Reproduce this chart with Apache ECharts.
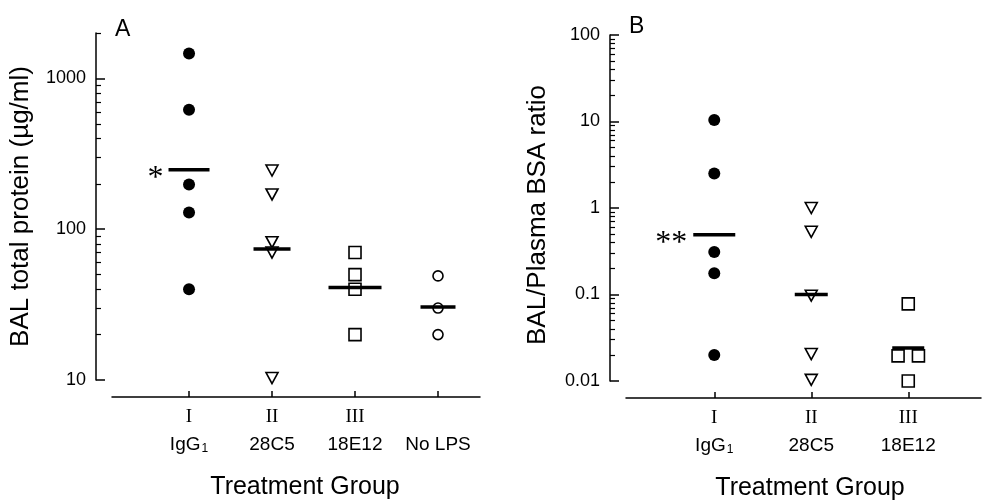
<!DOCTYPE html>
<html>
<head>
<meta charset="utf-8">
<script src="https://cdn.jsdelivr.net/npm/echarts@6/dist/echarts.min.js"></script>
<style>
  html, body { margin: 0; padding: 0; background: #fff; }
  #chart { width: 982px; height: 500px; }
</style>
</head>
<body>
<div id="chart"></div>
<script>
// panel A: BAL total protein (ug/ml)
const romanA = ['I', 'II', 'III', ''];
const groupNamesA = ['IgG1', '28C5', '18E12', 'No LPS'];
const proteinIgG = [1460, 620, 198, 129, 40];
const protein28C5 = [245, 170, 82, 70, 10.3];
const protein18E12 = [70, 50, 40, 20];
const proteinNoLPS = [49, 30, 20];
const proteinMean = [248, 74, 41, 30.5];
const yTicksA = [10, 100, 1000];

// panel B: BAL/plasma BSA ratio
const romanB = ['I', 'II', 'III'];
const groupNamesB = ['IgG1', '28C5', '18E12'];
const ratioIgG = [10.4, 2.5, 0.31, 0.176, 0.02];
const ratio28C5 = [1.0, 0.53, 0.097, 0.0205, 0.0103];
const ratio18E12 = [0.078, 0.0195, 0.0195, 0.01];
const ratio18E12X = [3, 2.895, 3.105, 3];
const ratioMean = [0.49, 0.1, 0.024];
const yTicksB = [0.01, 0.1, 1, 10, 100];

const black = '#000';

// minor ticks at 2..9 of each decade
function minorTicks(lo, hi) {
  const out = [];
  for (let d = lo; d < hi * 10; d *= 10) {
    for (let k = 2; k <= 9; k++) {
      const v = +(d * k).toPrecision(3);
      if (v <= hi) out.push(v);
    }
  }
  return out;
}

function xLabel(roman, name) {
  let s = name === 'IgG1' ? '{s|IgG}{sub|1}' : '{s|' + name + '}';
  return '{r|' + (roman || ' ') + '}\n' + s;
}

const richLabel = {
  r: { fontFamily: 'Liberation Serif', fontSize: 19, lineHeight: 28, color: black },
  s: { fontFamily: 'Liberation Sans', fontSize: 19, lineHeight: 28, color: black },
  sub: { fontFamily: 'Liberation Sans', fontSize: 12, verticalAlign: 'middle', padding: [8, 0, 0, 1], color: black }
};

function xAxisFor(grid, min, max, roman, names, namePad) {
  const vals = roman.map((r, i) => i + 1);
  return {
    gridIndex: grid, type: 'value', min: min, max: max, offset: 17,
    name: 'Treatment Group', nameLocation: 'middle', nameGap: 78,
    nameTextStyle: { fontFamily: 'Liberation Sans', fontSize: 25, color: black, padding: namePad },
    axisLine: { lineStyle: { color: black, width: 1.5 } },
    axisTick: { customValues: vals, inside: true, length: 6, lineStyle: { color: black, width: 1.5 } },
    axisLabel: {
      customValues: vals, margin: 6, color: black,
      formatter: v => xLabel(roman[v - 1], names[v - 1]),
      rich: richLabel
    },
    splitLine: { show: false }
  };
}

function yAxesFor(grid, min, max, ticks, name, gap, pad) {
  return [
    {
      gridIndex: grid, type: 'log', logBase: 10, min: min, max: max, position: 'left', offset: 16,
      name: name, nameLocation: 'middle', nameGap: gap,
      nameTextStyle: { fontFamily: 'Liberation Sans', fontSize: 26, color: black, padding: pad },
      axisLine: { lineStyle: { color: black, width: 1.5 } },
      axisTick: { customValues: ticks, inside: true, length: 9, lineStyle: { color: black, width: 1.5 } },
      axisLabel: {
        customValues: ticks, margin: 10, color: black,
        fontFamily: 'Liberation Sans', fontSize: 18,
        formatter: v => String(v)
      },
      splitLine: { show: false }
    },
    {
      gridIndex: grid, type: 'log', logBase: 10, min: min, max: max, position: 'left', offset: 16,
      axisLine: { show: false },
      axisTick: { customValues: minorTicks(min, max), inside: true, length: 5, lineStyle: { color: black, width: 1.2 } },
      axisLabel: { show: false },
      splitLine: { show: false }
    }
  ];
}

function pts(x, ys) {
  return ys.map((y, i) => [Array.isArray(x) ? x[i] : x, y]);
}

const filledCircle = { symbol: 'circle', symbolSize: 12, itemStyle: { color: black, opacity: 1 } };
const openTriangle = { symbol: 'triangle', symbolSize: [12, 11], symbolRotate: 180, itemStyle: { color: '#fff', borderColor: black, borderWidth: 1.6, opacity: 1 } };
const openSquare = { symbol: 'rect', symbolSize: 12, itemStyle: { color: '#fff', borderColor: black, borderWidth: 1.6, opacity: 1 } };
const openCircle = { symbol: 'circle', symbolSize: 10, itemStyle: { color: '#fff', borderColor: black, borderWidth: 1.6, opacity: 1 } };

function scatter(xi, yi, style, data) {
  return Object.assign({ type: 'scatter', xAxisIndex: xi, yAxisIndex: yi, data: data, silent: true }, style);
}

function meanSeries(xi, yi, means, widths, star, dist) {
  return means.map((m, i) => ({
    type: 'scatter', xAxisIndex: xi, yAxisIndex: yi, silent: true, z: 5,
    symbol: 'rect', symbolSize: [widths[i], 3.5],
    itemStyle: { color: black, opacity: 1 },
    data: [{
      value: [i + 1, m],
      label: i === 0 ? {
        show: true, position: 'left', distance: dist, formatter: star,
        fontFamily: 'Liberation Serif', fontSize: 32, color: black, offset: [0, 9]
      } : { show: false }
    }]
  }));
}

const chart = echarts.init(document.getElementById('chart'));
chart.setOption({
  backgroundColor: '#fff',
  animation: false,
  title: [
    { text: 'A', left: 110, top: 13, textStyle: { fontFamily: 'Liberation Sans', fontSize: 23, fontWeight: 'normal', color: black } },
    { text: 'B', left: 624, top: 10, textStyle: { fontFamily: 'Liberation Sans', fontSize: 23, fontWeight: 'normal', color: black } }
  ],
  grid: [
    { left: 112, top: 33, width: 368, height: 347, outerBoundsMode: 'none' },
    { left: 626, top: 35, width: 355, height: 346, outerBoundsMode: 'none' }
  ],
  xAxis: [
    xAxisFor(0, 0.072, 4.506, romanA, groupNamesA, [0, 0, 0, 18]),
    xAxisFor(1, 0.09, 3.75, romanB, groupNamesB, [0, 0, 0, 13])
  ],
  yAxis: [].concat(
    yAxesFor(0, 10, 2000, yTicksA, 'BAL total protein (\u00b5g/ml)', 62, [0, 0, 0, 0]),
    yAxesFor(1, 0.01, 100, yTicksB, 'BAL/Plasma BSA ratio', 59, [0, 14, 0, 0])
  ),
  series: [
    scatter(0, 0, filledCircle, pts(1, proteinIgG)),
    scatter(0, 0, openTriangle, pts(2, protein28C5)),
    scatter(0, 0, openSquare, pts(3, protein18E12)),
    scatter(0, 0, openCircle, pts(4, proteinNoLPS)),
    scatter(1, 2, filledCircle, pts(1, ratioIgG)),
    scatter(1, 2, openTriangle, pts(2, ratio28C5)),
    scatter(1, 2, openSquare, pts(ratio18E12X, ratio18E12))
  ].concat(
    meanSeries(0, 0, proteinMean, [41, 37, 53, 35], '*', 5),
    meanSeries(1, 2, ratioMean, [42, 33, 32], '**', 6)
  )
});
</script>
</body>
</html>
